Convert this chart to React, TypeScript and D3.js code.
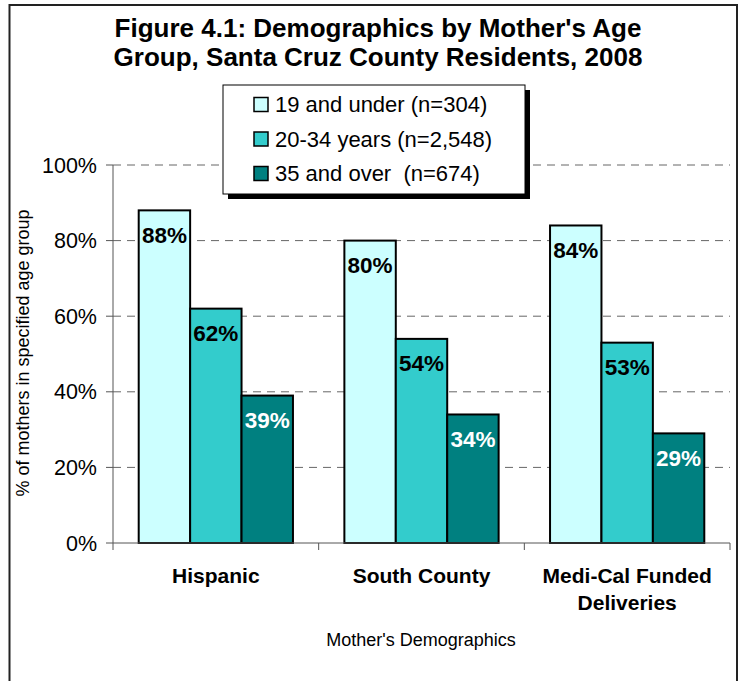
import React from 'react';
import * as d3 from 'd3';

const categories = ['Hispanic', 'South County', 'Medi-Cal Funded Deliveries'];
const categoryLines = [['Hispanic'], ['South County'], ['Medi-Cal Funded', 'Deliveries']];
const seriesNames = ['19 and under (n=304)', '20-34 years (n=2,548)', '35 and over  (n=674)'];
const under19 = [88, 80, 84];
const age20to34 = [62, 54, 53];
const over35 = [39, 34, 29];
const yTicks = [0, 20, 40, 60, 80, 100];

const seriesValues = [under19, age20to34, over35];
const colors = ['#CCFFFF', '#33CCCC', '#008080'];
const labelColors = ['#000', '#000', '#fff'];

const FONT = '"Liberation Sans", Arial, sans-serif';

export default function App() {
  const width = 742;
  const height = 681;
  const plot = { left: 113, right: 730, top: 165, bottom: 543 };

  const y = d3.scaleLinear().domain([0, 100]).range([plot.bottom, plot.top]);
  const x0 = d3.scaleBand<string>()
    .domain(categories)
    .range([plot.left, plot.right])
    .paddingInner(0.25)
    .paddingOuter(0.125);
  const x1 = d3.scaleBand<string>()
    .domain(seriesNames)
    .range([0, x0.bandwidth()]);

  const step = x0.step();
  const catTicks = d3.range(categories.length + 1).map(i => plot.left + i * step);

  return (
    <svg width={width} height={height} style={{ position: 'absolute', left: 0, top: 0 }} fontFamily={FONT}>
      <rect x={0} y={0} width={width} height={height} fill="#fff" />
      {/* chart frame */}
      <rect x={9.5} y={5} width={727.5} height={690} fill="none" stroke="#222" strokeWidth={2} />

      {/* title */}
      <text x={378} y={37} textAnchor="middle" fontSize={26} fontWeight="bold">
        Figure 4.1: Demographics by Mother's Age
      </text>
      <text x={378} y={66} textAnchor="middle" fontSize={26} fontWeight="bold">
        Group, Santa Cruz County Residents, 2008
      </text>

      {/* gridlines */}
      {yTicks.filter(t => t > 0).map(t => (
        <line key={'g' + t} x1={plot.left} x2={plot.right} y1={y(t)} y2={y(t)}
          stroke="#666" strokeWidth={1} strokeDasharray="8,6" />
      ))}

      {/* y axis */}
      <line x1={plot.left} x2={plot.left} y1={plot.top} y2={plot.bottom} stroke="#555" strokeWidth={1} />
      {yTicks.map(t => (
        <g key={'t' + t}>
          <line x1={plot.left - 7} x2={plot.left} y1={y(t)} y2={y(t)} stroke="#555" />
          <text x={97} y={y(t) + 7.5} textAnchor="end" fontSize={21.5}>{t + '%'}</text>
        </g>
      ))}
      <text transform={`translate(29,353) rotate(-90)`} textAnchor="middle" fontSize={18}>
        % of mothers in specified age group
      </text>

      {/* bars */}
      {categories.map((c, ci) => (
        <g key={c} transform={`translate(${x0(c)},0)`}>
          {seriesNames.map((s, si) => {
            const v = seriesValues[si][ci];
            const bx = x1(s) as number;
            return (
              <g key={s}>
                <rect x={bx} y={y(v)} width={x1.bandwidth()} height={plot.bottom - y(v)}
                  fill={colors[si]} stroke="#000" strokeWidth={2} />
                <text x={bx + x1.bandwidth() / 2} y={y(v) + 32.5} textAnchor="middle"
                  fontSize={22.5} fontWeight="bold" fill={labelColors[si]}>{v + '%'}</text>
              </g>
            );
          })}
        </g>
      ))}

      {/* x axis */}
      <line x1={plot.left} x2={plot.right} y1={plot.bottom} y2={plot.bottom} stroke="#555" />
      {catTicks.map((t, i) => (
        <line key={'x' + i} x1={t} x2={t} y1={plot.bottom} y2={plot.bottom + 7} stroke="#555" />
      ))}
      {categories.map((c, ci) => (
        <text key={'c' + c} x={(x0(c) as number) + x0.bandwidth() / 2} y={583} textAnchor="middle"
          fontSize={21} fontWeight="bold">
          {categoryLines[ci].map((l, li) => (
            <tspan key={li} x={(x0(c) as number) + x0.bandwidth() / 2} dy={li === 0 ? 0 : 27}>{l}</tspan>
          ))}
        </text>
      ))}
      <text x={421} y={646} textAnchor="middle" fontSize={18}>Mother's Demographics</text>

      {/* legend */}
      <rect x={228} y={90} width={302} height={109} fill="#000" />
      <rect x={223} y={85} width={302} height={109} fill="#fff" stroke="#000" strokeWidth={1} />
      {seriesNames.map((s, si) => (
        <g key={'l' + s} transform={`translate(254,${104.5 + si * 34.5})`}>
          <rect x={0} y={-7} width={14} height={14} fill={colors[si]} stroke="#000" strokeWidth={1.5} />
          <text x={21} y={7.5} fontSize={22} style={{ whiteSpace: 'pre' }}>{s}</text>
        </g>
      ))}
    </svg>
  );
}
